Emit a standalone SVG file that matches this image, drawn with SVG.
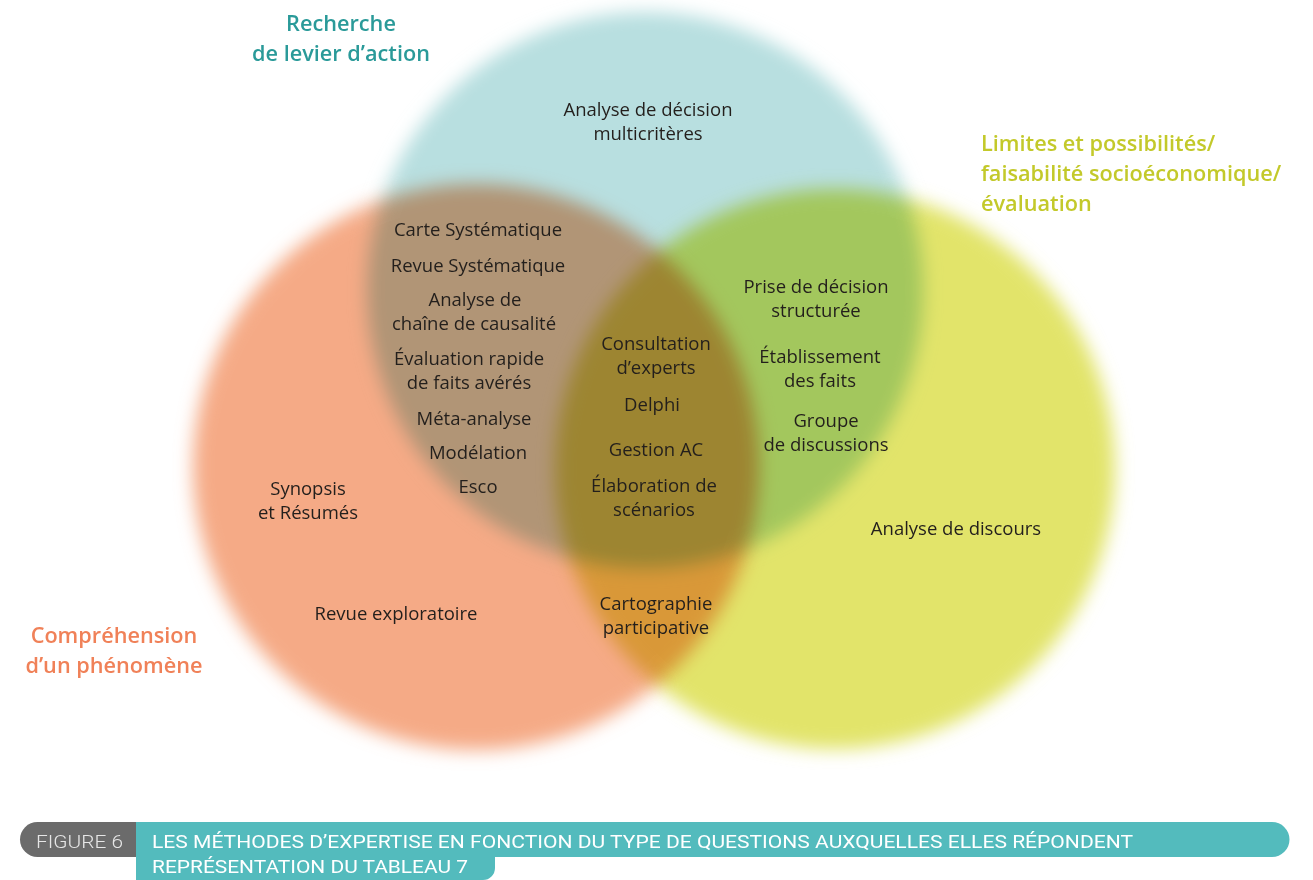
<svg xmlns="http://www.w3.org/2000/svg" width="1313" height="880" viewBox="0 0 1313 880">
<defs>
<filter id="soft" x="-20%" y="-20%" width="140%" height="140%"><feGaussianBlur stdDeviation="9"/></filter>
<style>
.c{mix-blend-mode:multiply;filter:url(#soft)}
.t{font-family:"Open Sans","Noto Sans",sans-serif;font-size:18.5px;fill:#231f1c;text-anchor:middle}
.h{font-family:"Open Sans","Noto Sans",sans-serif;font-size:21.7px;font-weight:600}
.cap{font-family:Roboto,"Liberation Sans",sans-serif;font-size:19px;fill:#ffffff}
</style>
</defs>
<rect width="1313" height="880" fill="#ffffff"/>
<g id="circles" style="isolation:isolate">
<circle id="circle-teal" class="c" cx="645" cy="290" r="278" fill="#b8dfe0"/>
<circle id="circle-orange" class="c" cx="476" cy="467" r="283" fill="#f5aa86"/>
<circle id="circle-yellow" class="c" cx="835" cy="469" r="280" fill="#e2e46a"/>
</g>
<g id="title-teal" class="h" fill="#2a9a99" text-anchor="middle">
<text x="341" y="31">Recherche</text>
<text x="341" y="61">de levier d’action</text>
</g>
<g id="title-yellow" class="h" fill="#c3c92a">
<text x="981" y="151">Limites et possibilités/</text>
<text x="981" y="181">faisabilité socioéconomique/</text>
<text x="981" y="211">évaluation</text>
</g>
<g id="title-orange" class="h" fill="#f08158" text-anchor="middle">
<text x="114" y="643">Compréhension</text>
<text x="114" y="673">d’un phénomène</text>
</g>
<g id="n-analyse-decision" class="t"><text x="648" y="116">Analyse de décision</text><text x="648" y="140">multicritères</text></g>
<g id="n-carte" class="t"><text x="478" y="236">Carte Systématique</text></g>
<g id="n-revue-sys" class="t"><text x="478" y="272">Revue Systématique</text></g>
<g id="n-chaine" class="t"><text x="475" y="306">Analyse de</text><text x="474" y="330">chaîne de causalité</text></g>
<g id="n-evaluation" class="t"><text x="469" y="365">Évaluation rapide</text><text x="469" y="389">de faits avérés</text></g>
<g id="n-meta" class="t"><text x="474" y="425">Méta-analyse</text></g>
<g id="n-modelation" class="t"><text x="478" y="459">Modélation</text></g>
<g id="n-esco" class="t"><text x="478" y="493">Esco</text></g>
<g id="n-consultation" class="t"><text x="656" y="350">Consultation</text><text x="656" y="374">d’experts</text></g>
<g id="n-delphi" class="t"><text x="652" y="411">Delphi</text></g>
<g id="n-gestion" class="t"><text x="656" y="456">Gestion AC</text></g>
<g id="n-scenarios" class="t"><text x="654" y="492">Élaboration de</text><text x="654" y="516">scénarios</text></g>
<g id="n-prise" class="t"><text x="816" y="293">Prise de décision</text><text x="816" y="317">structurée</text></g>
<g id="n-etablissement" class="t"><text x="820" y="363">Établissement</text><text x="820" y="387">des faits</text></g>
<g id="n-groupe" class="t"><text x="826" y="427">Groupe</text><text x="826" y="451">de discussions</text></g>
<g id="n-discours" class="t"><text x="956" y="535">Analyse de discours</text></g>
<g id="n-synopsis" class="t"><text x="308" y="495">Synopsis</text><text x="308" y="519">et Résumés</text></g>
<g id="n-revue-exp" class="t"><text x="396" y="620">Revue exploratoire</text></g>
<g id="n-cartographie" class="t"><text x="656" y="610">Cartographie</text><text x="656" y="634">participative</text></g>
<g id="caption">
<rect x="20" y="822" width="140" height="35" rx="17.5" fill="#6b6b6b"/>
<path d="M136 822 H1272 A17.5 17.5 0 0 1 1272 857 H495 V868 A12 12 0 0 1 483 880 H136 Z" fill="#53bbbd"/>
<text class="cap" x="36" y="848" style="fill:#e6e6e6;font-weight:300" textLength="87" lengthAdjust="spacingAndGlyphs">FIGURE 6</text>
<text class="cap" x="152" y="848" textLength="981" lengthAdjust="spacingAndGlyphs">LES MÉTHODES D’EXPERTISE EN FONCTION DU TYPE DE QUESTIONS AUXQUELLES ELLES RÉPONDENT</text>
<text class="cap" x="152" y="873" textLength="316" lengthAdjust="spacingAndGlyphs">REPRÉSENTATION DU TABLEAU 7</text>
</g>
</svg>
